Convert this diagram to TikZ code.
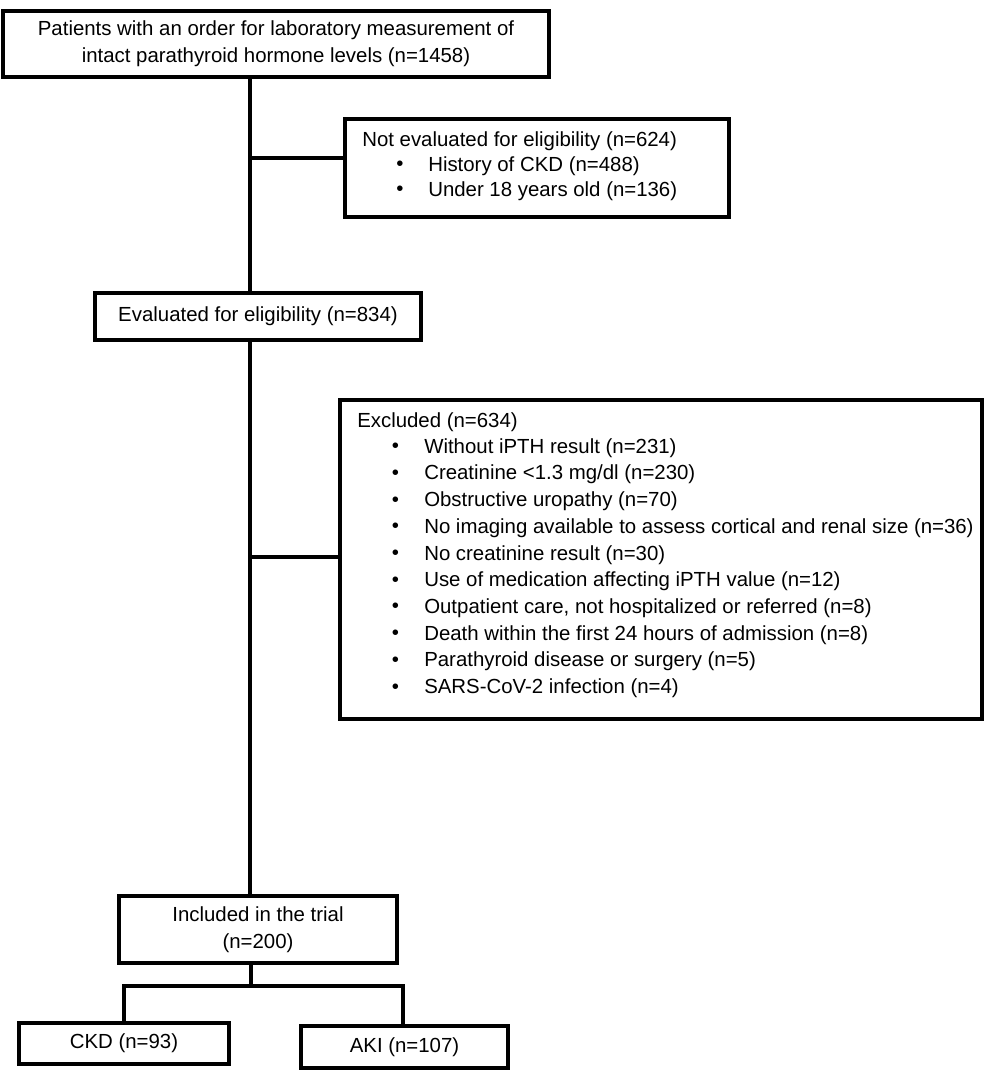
\documentclass[tikz,border=0pt]{standalone}
\usepackage{fontspec}
\setmainfont{Liberation Sans}
\begin{document}
\begin{tikzpicture}[x=0.75pt,y=-0.75pt,
  box/.style={draw=black,line width=3pt,rectangle,inner sep=0pt,fill=white,font=\fontsize{15.3}{20}\selectfont,align=center},
  conn/.style={draw=black,line width=2.6pt},
  txt/.style={inner sep=0pt,font=\fontsize{15.3}{20}\selectfont},
  ltxt/.style={txt,anchor=west},
  ]
\useasboundingbox (0,0) rectangle (986,1077);
% boxes
\node[box,minimum width=409.5pt,minimum height=49.5pt] (top) at (276,44)
  {Patients with an order for laboratory measurement of\\intact parathyroid hormone levels (n=1458)};
\node[box,minimum width=288pt,minimum height=73.5pt] (ne) at (537,168) {};
\node[box,minimum width=244.5pt,minimum height=35.25pt] (ev) at (258,316.5) {Evaluated for eligibility (n=834)};
\node[box,minimum width=481.5pt,minimum height=239.25pt] (ex) at (661,559.5) {};
\node[box,minimum width=208.5pt,minimum height=50.25pt] (inc) at (258,929.5) {Included in the trial\\(n=200)};
\node[box,minimum width=157.5pt,minimum height=30.75pt] (ckd) at (124,1043.5) {CKD (n=93)};
\node[box,minimum width=155.25pt,minimum height=31.5pt] (aki) at (404.5,1047) {AKI (n=107)};
% texts of the side boxes
\node[ltxt] (net) at (362,141) {Not evaluated for eligibility (n=624)};
\node[txt] (neb1) at (400,166) {\textbullet};
\node[ltxt] (ne1) at (428,166) {History of CKD (n=488)};
\node[txt] (neb2) at (400,191) {\textbullet};
\node[ltxt] (ne2) at (428,191) {Under 18 years old (n=136)};
\node[ltxt] (ext) at (357,422) {Excluded (n=634)};
\foreach \t [count=\i] in {Without iPTH result (n=231),
  Creatinine <1.3 mg/dl (n=230),
  Obstructive uropathy (n=70),
  No imaging available to assess cortical and renal size (n=36),
  No creatinine result (n=30),
  Use of medication affecting iPTH value (n=12),
  {Outpatient care, not hospitalized or referred (n=8)},
  Death within the first 24 hours of admission (n=8),
  Parathyroid disease or surgery (n=5),
  SARS-CoV-2 infection (n=4)}
{
  \node[txt] (exb\i) at (395.5,{448+(\i-1)*26.7}) {\textbullet};
  \node[ltxt] (ex\i) at (424,{448+(\i-1)*26.7}) {\t};
}
% connectors
\coordinate (spine) at (250,0);
\coordinate (b1) at (250,158);
\coordinate (b2) at (250,557);
\coordinate (split) at (251,986);
\draw[conn] (top.south -| spine) -- (ev.north -| spine);
\draw[conn] (ev.south -| spine) -- (inc.north -| spine);
\draw[conn] (b1) -- (b1 -| ne.west);
\draw[conn] (b2) -- (b2 -| ex.west);
\draw[conn] (inc.south -| split) -- (split);
\draw[conn] (ckd.north) |- (split) -| (aki.north -| 403,0);
\end{tikzpicture}
\end{document}
